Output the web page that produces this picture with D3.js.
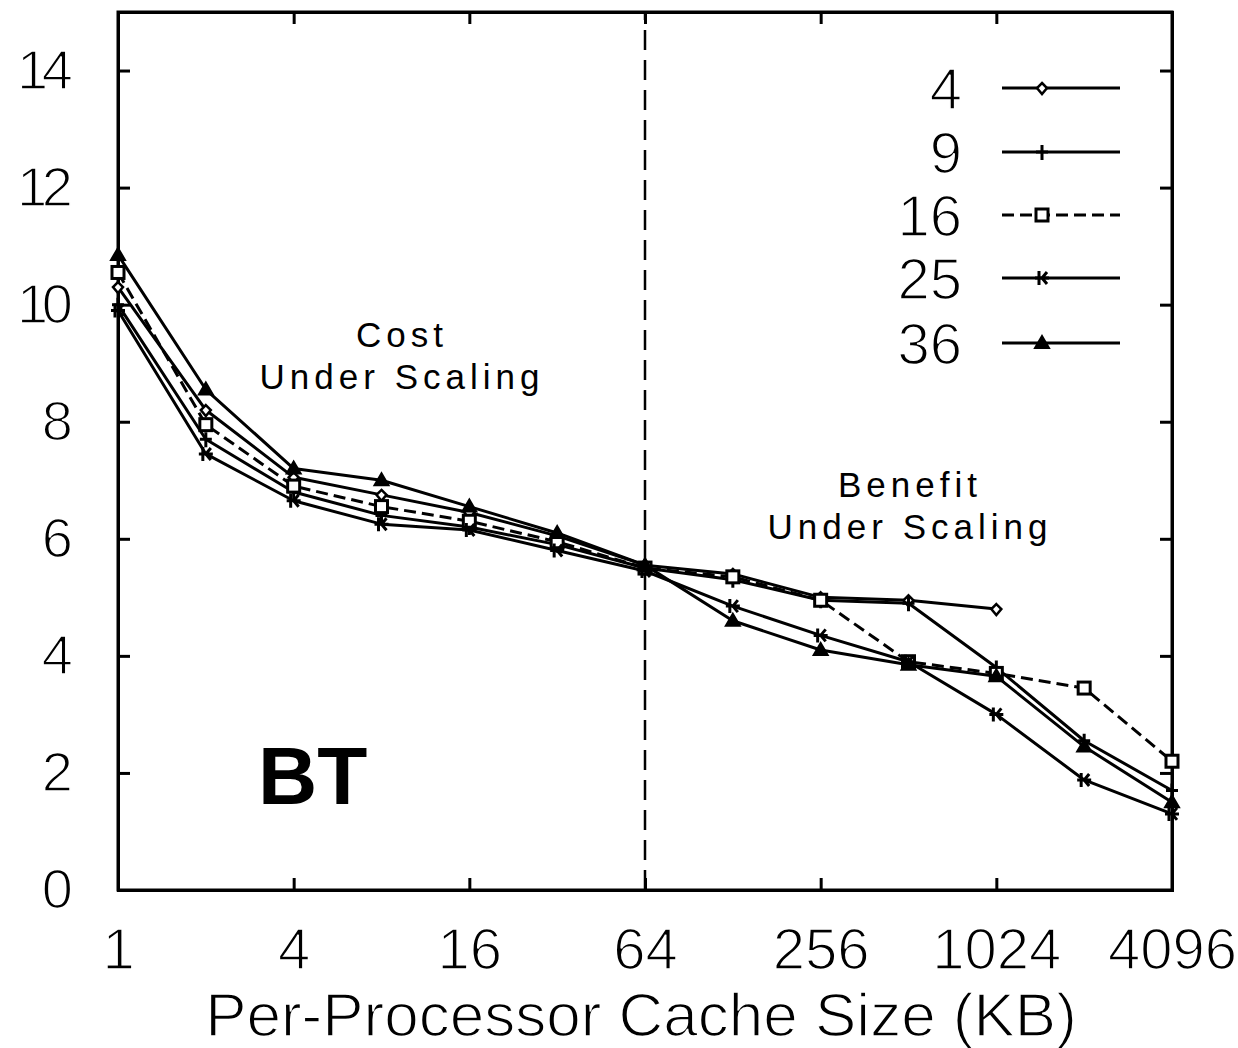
<!DOCTYPE html>
<html>
<head>
<meta charset="utf-8">
<script src="https://cdn.jsdelivr.net/npm/d3@7"></script>
<style>
  body { margin: 0; background: #fff; }
  svg { display: block; }
  text { font-family: "Liberation Sans", Arial, sans-serif; fill: #000; }
  .thin { stroke: #fff; stroke-width: 1.6px; paint-order: normal; }
</style>
</head>
<body>
<div id="chart"></div>
<script>
    // data
    cacheSizes = [1, 2, 4, 8, 16, 32, 64, 128, 256, 512, 1024, 2048, 4096]
    xTicks = [1, 4, 16, 64, 256, 1024, 4096]
    yTicks = [0, 2, 4, 6, 8, 10, 12, 14]
    seriesNames = ["4", "9", "16", "25", "36"]

    s4  = [10.3, 8.2, 7.05, 6.75, 6.45, 6.05, 5.55, 5.4, 5.0, 4.95, 4.8]
    s9  = [10.0, 7.7, 6.8, 6.4, 6.2, 5.9, 5.5, 5.3, 4.95, 4.9, 3.8, 2.55, 1.7]
    s16 = [10.55, 7.95, 6.9, 6.55, 6.3, 5.95, 5.5, 5.35, 4.95, 3.9, 3.7, 3.45, 2.2]
    s25 = [9.9, 7.45, 6.65, 6.25, 6.15, 5.8, 5.45, 4.85, 4.35, 3.9, 3.0, 1.88, 1.3]
    s36 = [10.85, 8.55, 7.2, 7.0, 6.55, 6.1, 5.55, 4.6, 4.1, 3.85, 3.65, 2.45, 1.5]
    seriesValues = [s4, s9, s16, s25, s36]

    canvas = ({width: 1238, height: 1048})
    margin = ({top: 12, right: 66, bottom: 158, left: 118})

    var x = d3.scaleLog().base(2)
        .domain([1, 4096])
        .range([margin.left, canvas.width - margin.right])

    var y = d3.scaleLinear()
        .domain([0, 15])
        .range([canvas.height - margin.bottom, margin.top])

    var svg = d3.select("#chart").append("svg")
        .attr("width", canvas.width)
        .attr("height", canvas.height)
        .attr("viewBox", [0, 0, canvas.width, canvas.height])

    // vertical dashed line at 64KB
    svg.append("line")
        .attr("x1", x(64)).attr("x2", x(64))
        .attr("y1", y(0)).attr("y2", y(15))
        .attr("stroke", "#000")
        .attr("stroke-width", 2.5)
        .attr("stroke-dasharray", "20,10")

    // axes (inward ticks, mirrored)
    var tickLen = 12
    svg.append("g")
        .attr("transform", `translate(0,${y(0)})`)
        .call(d3.axisBottom(x).tickValues(xTicks).tickFormat(d3.format("d")).tickSize(-tickLen).tickPadding(38))
        .call(g => g.selectAll("text").attr("font-size", 58).attr("dy", "0.71em"))
    svg.append("g")
        .attr("transform", `translate(0,${y(15)})`)
        .call(d3.axisTop(x).tickValues(xTicks).tickFormat("").tickSize(-tickLen))
    svg.append("g")
        .attr("transform", `translate(${x(1)},0)`)
        .call(d3.axisLeft(y).tickValues(yTicks).tickSize(-tickLen).tickPadding(45))
        .call(g => g.selectAll("text").attr("font-size", 56).attr("textLength", d => d >= 10 ? 56 : null))
    svg.append("g")
        .attr("transform", `translate(${x(4096)},0)`)
        .call(d3.axisRight(y).tickValues(yTicks).tickFormat("").tickSize(-tickLen))

    svg.selectAll(".domain").attr("stroke-width", 3)
    svg.selectAll(".tick line").attr("stroke-width", 3)
    svg.selectAll(".tick text").attr("font-family", "'Liberation Sans', Arial, sans-serif").classed("thin", true)

    // frame
    svg.append("rect")
        .attr("x", x(1)).attr("y", y(15))
        .attr("width", x(4096) - x(1)).attr("height", y(0) - y(15))
        .attr("fill", "none").attr("stroke", "#000").attr("stroke-width", 3)

    svg.append("text")
        .attr("class", "thin")
        .attr("x", 641)
        .attr("y", 1036)
        .attr("text-anchor", "middle")
        .attr("font-size", 62)
        .text("Per-Processor Cache Size (KB)")

    // markers
    function marker(g, i, cx, cy) {
        if (i == 0) {
            g.append("path").attr("d", `M${cx},${cy-5}L${cx+5},${cy}L${cx},${cy+6}L${cx-5},${cy}Z`)
                .attr("fill", "#fff").attr("stroke", "#000").attr("stroke-width", 2.5)
        } else if (i == 1) {
            g.append("path").attr("d", `M${cx},${cy-7}V${cy+8}M${cx-6},${cy}H${cx+6}`)
                .attr("stroke", "#000").attr("stroke-width", 3)
        } else if (i == 2) {
            g.append("rect").attr("x", cx-6).attr("y", cy-6).attr("width", 12).attr("height", 12)
                .attr("fill", "#fff").attr("stroke", "#000").attr("stroke-width", 3)
        } else if (i == 3) {
            g.append("path").attr("d", `M${cx-3},${cy-7}V${cy+7}M${cx-7},${cy}H${cx+7}M${cx},${cy}L${cx+5},${cy-6}M${cx},${cy}L${cx+5},${cy+6}`)
                .attr("stroke", "#000").attr("stroke-width", 3).attr("fill", "none")
        } else {
            g.append("path").attr("d", `M${cx},${cy-7}L${cx+7},${cy+5}L${cx-7},${cy+5}Z`)
                .attr("fill", "#000").attr("stroke", "#000").attr("stroke-width", 2)
        }
    }

    var line = d3.line()
        .x(d => x(d[0]))
        .y(d => y(d[1]))

    seriesValues.forEach(function(vals, i) {
        var pts = vals.map((v, j) => [cacheSizes[j], v])
        svg.append("path")
            .attr("fill", "none")
            .attr("stroke", "#000")
            .attr("stroke-width", 3)
            .attr("stroke-linejoin", "round")
            .attr("stroke-dasharray", i == 2 ? "12,6" : null)
            .attr("d", line(pts))
        var mg = svg.append("g")
        pts.forEach(p => marker(mg, i, x(p[0]), y(p[1])))
    })

    // legend
    var legendY = [88, 152, 215, 278, 343]
    seriesNames.forEach(function(name, i) {
        var ly = legendY[i]
        svg.append("text")
            .attr("class", "thin")
            .attr("x", 962).attr("y", ly + 21)
            .attr("text-anchor", "end")
            .attr("font-size", 58)
            .text(name)
        svg.append("line")
            .attr("x1", 1002).attr("x2", 1120)
            .attr("y1", ly).attr("y2", ly)
            .attr("stroke", "#000").attr("stroke-width", 3)
            .attr("stroke-dasharray", i == 2 ? "12,6" : null)
        marker(svg.append("g"), i, 1042, ly)
    })

    // annotations
    function note(lines, cx, cy) {
        lines.forEach(function(t, k) {
            svg.append("text")
                .attr("x", cx).attr("y", cy + k * 42)
                .attr("text-anchor", "middle")
                .attr("font-size", 35)
                .attr("letter-spacing", 5)
                .text(t)
        })
    }
    note(["Cost", "Under Scaling"], 402, 347)
    note(["Benefit", "Under Scaling"], 910, 497)

    svg.append("text")
        .attr("x", 258).attr("y", 804)
        .attr("font-size", 82)
        .attr("font-weight", "bold")
        .text("BT")
</script>
</body>
</html>
